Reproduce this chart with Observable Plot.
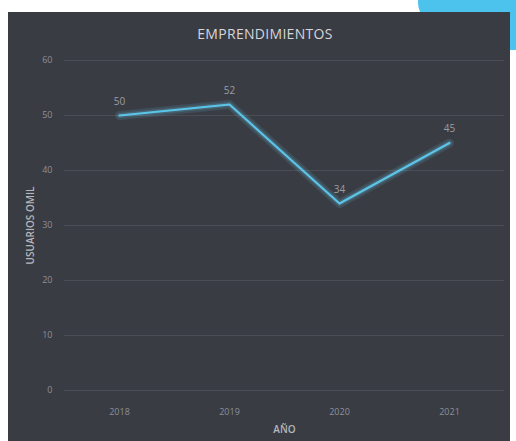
<!DOCTYPE html>
<html>
<head>
<meta charset="utf-8">
<script src="https://cdn.jsdelivr.net/npm/d3@7"></script>
<script src="https://cdn.jsdelivr.net/npm/@observablehq/plot@0.6"></script>
<style>
  html, body { margin: 0; padding: 0; background: #ffffff; width: 516px; height: 441px; overflow: hidden; position: relative; font-family: "Open Sans", "DejaVu Sans", sans-serif; }
  #blob { position: absolute; left: 418px; top: -45px; width: 200px; height: 95px; background: #4cc3ec; border-radius: 50%; }
  #panel { position: absolute; left: 8px; top: 12px; width: 502px; height: 429px; background: #3a3c44; }
  #title { position: absolute; left: 0; top: 24px; width: 530px; text-align: center; color: #d4d6da; font-size: 14px; letter-spacing: 0.3px; }
  #chart { position: absolute; left: 0; top: 40px; }
</style>
</head>
<body>
<div id="blob"></div>
<div id="panel"></div>
<div id="title">EMPRENDIMIENTOS</div>
<div id="chart"></div>
<script>
const years = ["2018", "2019", "2020", "2021"];
const users = [50, 52, 34, 45];
const yTicks = [0, 10, 20, 30, 40, 50, 60];

const data = years.map((y, i) => ({year: y, value: users[i]}));

const chart = Plot.plot({
  width: 516,
  height: 401,
  marginLeft: 64,
  marginRight: 12,
  marginTop: 20,
  marginBottom: 51,
  style: { background: "transparent", color: "#8d9097", fontFamily: "Open Sans, DejaVu Sans, sans-serif", fontSize: "9px" },
  x: { type: "point", domain: years, padding: 0.5, label: "AÑO", labelAnchor: "center", labelOffset: 42, tickSize: 0, tickPadding: 18 },
  y: { domain: [0, 60], ticks: yTicks, label: "USUARIOS OMIL", labelArrow: "none", labelAnchor: "center", labelOffset: 38, tickSize: 0, tickPadding: 12 },
  marks: [
    Plot.ruleY(yTicks, { stroke: "#6a6d75", strokeOpacity: 0.35, strokeWidth: 1 }),
    Plot.line(data, { x: "year", y: "value", stroke: "#6fd3f2", strokeWidth: 9, strokeOpacity: 0.12 }),
    Plot.line(data, { x: "year", y: "value", stroke: "#6fd3f2", strokeWidth: 5, strokeOpacity: 0.18 }),
    Plot.line(data, { x: "year", y: "value", stroke: "#5cc6ea", strokeWidth: 2 }),
    Plot.text(data, { x: "year", y: "value", text: d => String(d.value), dy: -14, fill: "#9a9da4", fontSize: 10 })
  ]
});
chart.querySelectorAll("g[aria-label='x-axis label'] text, g[aria-label='y-axis label'] text").forEach(t => {
  t.setAttribute("fill", "#b4b7bd");
  t.style.fontSize = "10px";
  t.style.fontWeight = "600";
  t.textContent = t.textContent.replace(/\s*[↑→]\s*/g, "");
});
document.getElementById("chart").appendChild(chart);
</script>
</body>
</html>
